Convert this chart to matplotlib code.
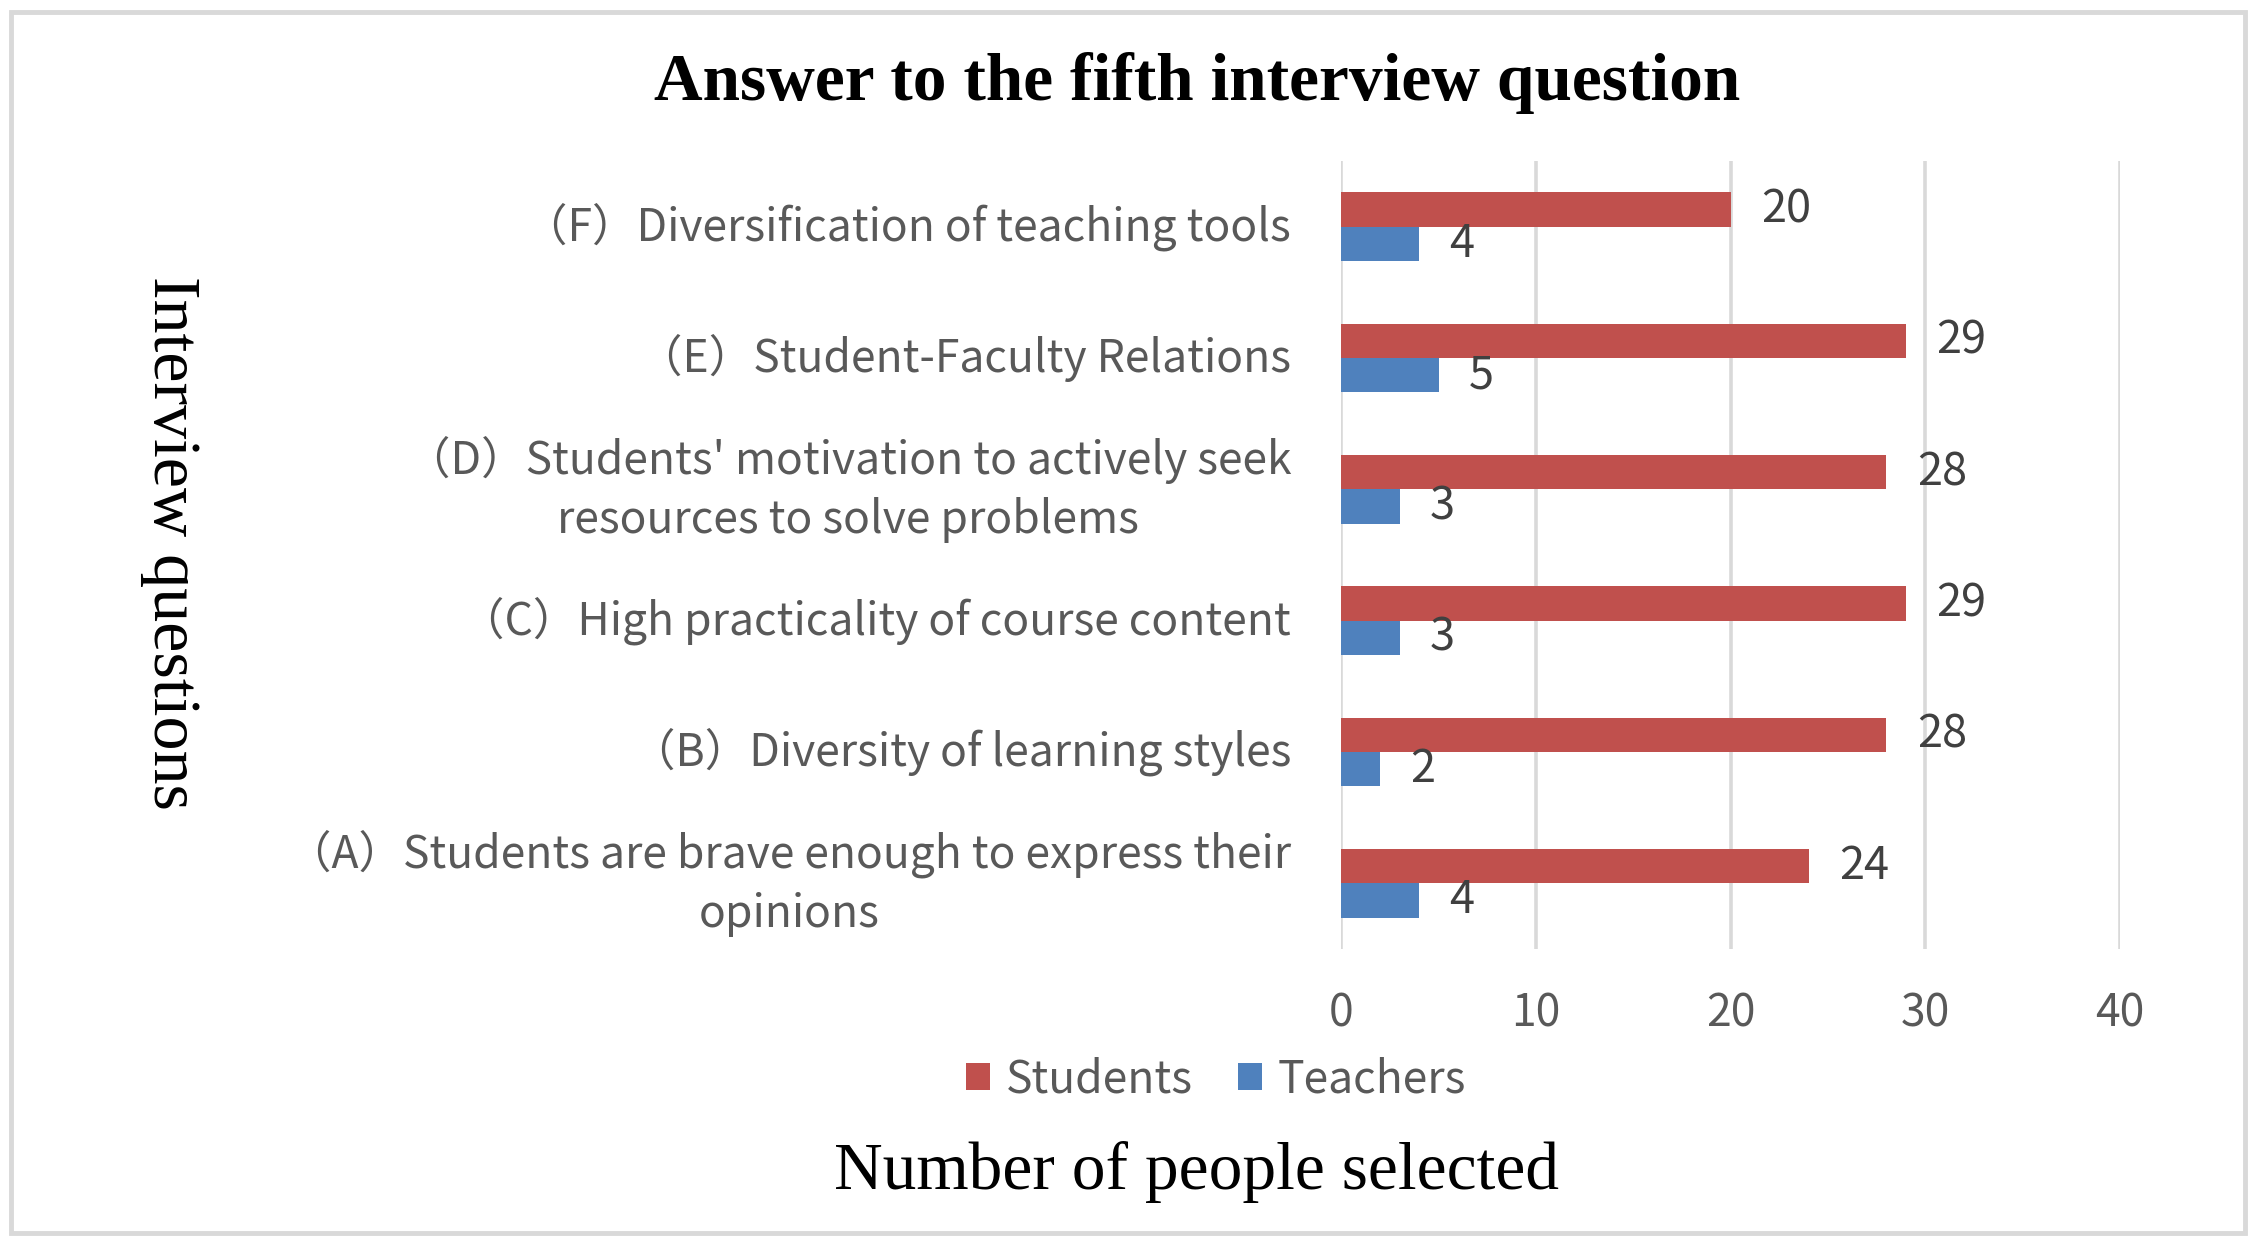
import matplotlib
matplotlib.use("Agg")
import matplotlib.pyplot as plt
from matplotlib.patches import Rectangle
import numpy as np

categories = [
    "（A）Students are brave enough to express their\nopinions",
    "（B）Diversity of learning styles",
    "（C）High practicality of course content",
    "（D）Students' motivation to actively seek\nresources to solve problems",
    "（E）Student-Faculty Relations",
    "（F）Diversification of teaching tools",
]
students = [24, 28, 29, 28, 29, 20]
teachers = [4, 2, 3, 3, 5, 4]
x_ticks = [0, 10, 20, 30, 40]

RED = "#C0504D"
BLUE = "#4F81BD"
GRID = "#D9D9D9"
TXT = "#595959"
SANS = ["Noto Sans CJK SC", "DejaVu Sans"]
SERIF = "Liberation Serif"

fig = plt.figure(figsize=(22.54, 12.45), dpi=100)
ax = fig.add_axes([0.595, 0.2378, 0.9406 - 0.595, 0.8707 - 0.2378])

y = np.arange(len(categories))
h = 0.262
b1 = ax.barh(y + h / 2, students, height=h, color=RED, label="Students")
b2 = ax.barh(y - h / 2, teachers, height=h, color=BLUE, label="Teachers")

ax.bar_label(b1, padding=22, fontsize=32.5, color="#404040", family=SANS)
ax.bar_label(b2, padding=22, fontsize=32.5, color="#404040", family=SANS)

ax.set_xlim(0, 40)
ax.set_ylim(-0.5, len(categories) - 0.5)
ax.set_xticks(x_ticks)
ax.set_yticks(y)
ax.set_yticklabels(categories)
for lab in ax.get_yticklabels():
    lab.set_multialignment("center")
    lab.set_verticalalignment("center")
    lab.set_family(SANS)
    lab.set_fontsize(32)
    lab.set_linespacing(1.37)
    lab.set_color(TXT)
for lab in ax.get_xticklabels():
    lab.set_family(SANS)
    lab.set_fontsize(32)
    lab.set_color(TXT)
ax.tick_params(axis="y", length=0, pad=36)
ax.tick_params(axis="x", length=0, pad=30)

ax.grid(axis="x", color=GRID, linewidth=2.6)
ax.set_axisbelow(True)
for s in ax.spines.values():
    s.set_visible(False)

fig.text(0.531, 0.933, "Answer to the fifth interview question", ha="center", va="center",
         fontsize=48.5, fontweight="bold", family=SERIF)
fig.text(0.0755, 0.564, "Interview questions", ha="center", va="center", rotation=270,
         fontsize=49, family=SERIF)
fig.text(0.531, 0.059, "Number of people selected", ha="center", va="center",
         fontsize=48.5, family=SERIF)

leg = fig.legend(handles=[b1, b2], loc="center", bbox_to_anchor=(0.5395, 0.133), ncol=2,
                 frameon=False, handlelength=0.55, handleheight=0.55, handletextpad=0.36,
                 columnspacing=1.0, prop={"family": SANS, "size": 32})
for t in leg.get_texts():
    t.set_color(TXT)

fig.patches.append(Rectangle((11 / 2254, 12 / 1245), 2234 / 2254, 1221 / 1245,
                             transform=fig.transFigure, fill=False, edgecolor=GRID, linewidth=3.5))

fig.savefig("out.png", dpi=100)
